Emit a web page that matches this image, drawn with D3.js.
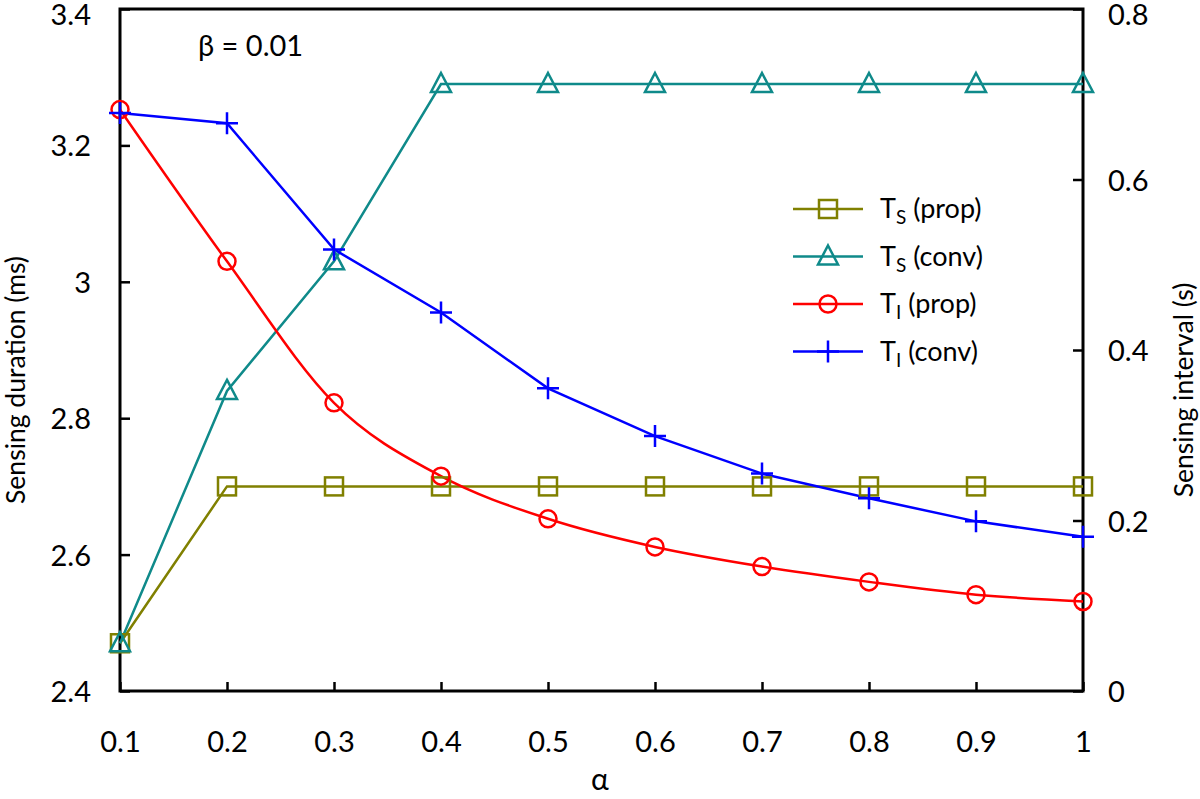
<!DOCTYPE html>
<html><head><meta charset="utf-8">
<script src="https://cdn.jsdelivr.net/npm/d3@7"></script>
<style>body{margin:0;background:#fff}svg{display:block}text{font-family:Lato,"Open Sans",sans-serif;fill:#000}</style>
</head><body><svg id="c" width="1200" height="799"></svg>
<script>
const alphaVals = [0.1,0.2,0.3,0.4,0.5,0.6,0.7,0.8,0.9,1.0];
const tsProp = [2.47,2.70,2.70,2.70,2.70,2.70,2.70,2.70,2.70,2.70];
const tsConv = [2.47,2.84,3.03,3.29,3.29,3.29,3.29,3.29,3.29,3.29];
const tiProp = [0.682,0.504,0.338,0.252,0.202,0.169,0.146,0.128,0.113,0.105];
const tiConv = [0.678,0.666,0.518,0.444,0.355,0.299,0.255,0.226,0.199,0.181];
const xTicks = [0.1,0.2,0.3,0.4,0.5,0.6,0.7,0.8,0.9,1];
const leftTicks = [2.4,2.6,2.8,3.0,3.2,3.4];
const rightTicks = [0,0.2,0.4,0.6,0.8];
const leftTickLabels = ["2.4","2.6","2.8","3","3.2","3.4"];
const rightTickLabels = ["0","0.2","0.4","0.6","0.8"];

const svg = d3.select("#c");
const L=120,R=1083,T=9,B=691;
const x = d3.scaleLinear().domain([0.1,1]).range([L,R]);
const yL = d3.scaleLinear().domain([2.4,3.4]).range([B,T]);
const yR = d3.scaleLinear().domain([0,0.8]).range([B,T]);

const series = [
  {name:"prop", sub:"S", vals:tsProp, y:yL, color:"#808000", marker:"square", curve:d3.curveLinear},
  {name:"conv", sub:"S", vals:tsConv, y:yL, color:"#0f8a8a", marker:"triangle", curve:d3.curveLinear},
  {name:"prop", sub:"I", vals:tiProp, y:yR, color:"#ff0000", marker:"circle", curve:d3.curveMonotoneX},
  {name:"conv", sub:"I", vals:tiConv, y:yR, color:"#0000ff", marker:"plus", curve:d3.curveLinear}
];

const fs = 29;
const gx = svg.append("g").attr("transform",`translate(0,${B})`)
  .call(d3.axisBottom(x).tickValues(xTicks).tickFormat(d=>String(+d.toFixed(1))).tickSizeInner(-9).tickSizeOuter(0).tickPadding(0));
gx.selectAll("text").attr("y",61).attr("dy",0).style("font-size",fs+"px");
const gl = svg.append("g").attr("transform",`translate(${L},0)`)
  .call(d3.axisLeft(yL).tickValues(leftTicks).tickFormat((d,i)=>leftTickLabels[i]).tickSizeInner(-10).tickSizeOuter(0).tickPadding(0));
gl.selectAll("text").attr("x",-29).attr("dy",0).attr("y",d=>Math.max(10.5, 24-yL(d))).style("font-size",fs+"px");
const gr = svg.append("g").attr("transform",`translate(${R},0)`)
  .call(d3.axisRight(yR).tickValues(rightTicks).tickFormat((d,i)=>rightTickLabels[i]).tickSizeInner(-10).tickSizeOuter(0).tickPadding(0));
gr.selectAll("text").attr("x",25).attr("dy",0).attr("y",d=>Math.max(10.5, 24-yR(d))).style("font-size",fs+"px");
svg.selectAll(".domain").remove();
svg.selectAll(".tick line").attr("stroke","#000").attr("stroke-width",2.5);
svg.append("rect").attr("x",L).attr("y",T).attr("width",R-L).attr("height",B-T)
  .attr("fill","none").attr("stroke","#000").attr("stroke-width",3);

function drawMarker(g, type, cx, cy, color){
  const sw=2.5;
  if(type==="square") g.append("rect").attr("x",cx-9).attr("y",cy-9).attr("width",18).attr("height",18).attr("fill","none").attr("stroke",color).attr("stroke-width",sw);
  else if(type==="triangle") g.append("path").attr("d",`M${cx},${cy-11}L${cx+10},${cy+8}L${cx-10},${cy+8}Z`).attr("fill","none").attr("stroke",color).attr("stroke-width",sw);
  else if(type==="circle") g.append("circle").attr("cx",cx).attr("cy",cy).attr("r",8.5).attr("fill","none").attr("stroke",color).attr("stroke-width",sw);
  else g.append("path").attr("d",`M${cx-11},${cy}H${cx+11}M${cx},${cy-11}V${cy+11}`).attr("stroke",color).attr("stroke-width",sw);
}

series.forEach(s=>{
  const line = d3.line().x((d,i)=>x(alphaVals[i])).y(d=>s.y(d)).curve(s.curve);
  svg.append("path").attr("d",line(s.vals)).attr("fill","none").attr("stroke",s.color).attr("stroke-width",2.5);
});
series.forEach(s=>{
  const g = svg.append("g");
  s.vals.forEach((v,i)=>drawMarker(g,s.marker,x(alphaVals[i]),s.y(v),s.color));
});

const lg = svg.append("g");
series.forEach((s,i)=>{
  const yy = 209 + i*47.5;
  lg.append("line").attr("x1",793).attr("x2",863).attr("y1",yy).attr("y2",yy).attr("stroke",s.color).attr("stroke-width",2.5);
  drawMarker(lg,s.marker,828,yy,s.color);
  const t = lg.append("text").attr("x",880).attr("y",yy+9).style("font-size","27px");
  t.append("tspan").text("T");
  t.append("tspan").attr("dy",6).style("font-size","19px").text(s.sub);
  t.append("tspan").attr("dy",-6).text(" (" + s.name + ")");
});

svg.append("text").attr("x",198).attr("y",56).style("font-size","29px").text("β = 0.01");
svg.append("text").attr("x",600).attr("y",790).attr("text-anchor","middle").style("font-size","30px").text("α");
svg.append("text").attr("transform","translate(25,380) rotate(-90)").attr("text-anchor","middle").style("font-size","26.5px").text("Sensing duration (ms)");
svg.append("text").attr("transform","translate(1193,390) rotate(-90)").attr("text-anchor","middle").style("font-size","26.5px").text("Sensing interval (s)");
</script></body></html>
